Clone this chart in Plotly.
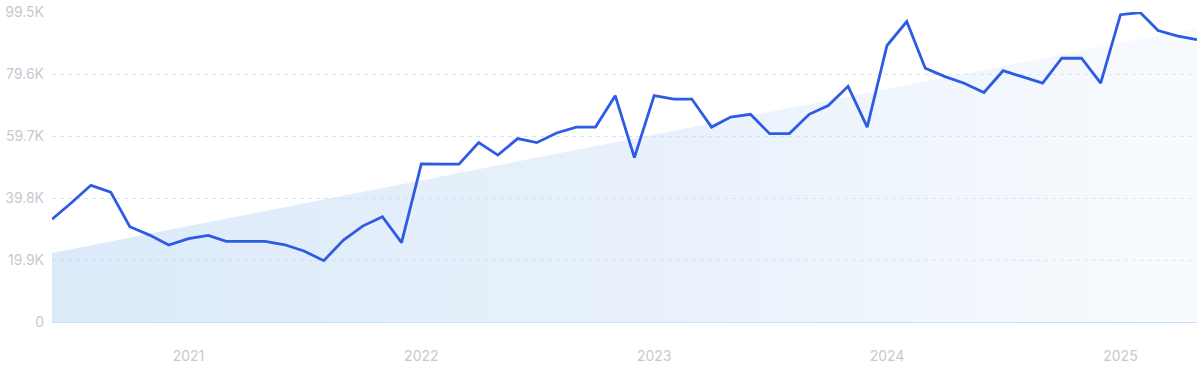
import plotly.graph_objects as go
import pandas as pd

# Monthly values, June 2020 .. May 2025
months = pd.date_range("2020-06-01", "2025-05-01", freq="MS")
values = [
    33000, 38200, 43900, 41700, 30600, 27900, 24700, 26800, 27800, 25900,
    25900, 25900, 24800, 22800, 19700, 26300, 30800, 33800, 25500, 50800,
    50700, 50700, 57600, 53600, 58900, 57600, 60700, 62600, 62600, 72700,
    52800, 72700, 71600, 71600, 62600, 65800, 66700, 60500, 60500, 66700,
    69500, 75700, 62600, 88800, 96500, 81500, 78800, 76700, 73700, 80700,
    78700, 76700, 84700, 84700, 76700, 98700, 99400, 93600, 91800, 90700,
]
trend_x = ["2020-06-01", "2025-05-01"]
trend_y = [22200, 94400]

ytick_vals = [0, 19900, 39800, 59700, 79600, 99500]
ytick_text = ["0", "19.9K", "39.8K", "59.7K", "79.6K", "99.5K"]
xtick_vals = ["2021-01-01", "2022-01-01", "2023-01-01", "2024-01-01", "2025-01-01"]
xtick_text = ["2021", "2022", "2023", "2024", "2025"]

fig = go.Figure()
fig.add_trace(go.Scatter(
    x=trend_x, y=trend_y, mode="lines", line=dict(width=0),
    fill="tozeroy",
    fillgradient=dict(type="horizontal",
                      colorscale=[[0, "rgba(190,216,244,0.55)"],
                                  [0.6, "rgba(205,225,247,0.42)"],
                                  [1, "rgba(235,242,252,0.35)"]]),
    hoverinfo="skip", showlegend=False,
))
fig.add_trace(go.Scatter(
    x=months, y=values, mode="lines",
    line=dict(color="#2d5be3", width=2.8),
    showlegend=False,
))

tick_font = dict(family="Inter, Roboto, sans-serif", size=14, color="#c6c9d1")
fig.update_layout(
    width=1200, height=371,
    margin=dict(l=52, r=3, t=9, b=49),
    paper_bgcolor="white", plot_bgcolor="white",
    xaxis=dict(
        range=["2020-06-01", "2025-05-01"],
        tickvals=xtick_vals, ticktext=xtick_text,
        showgrid=False, zeroline=False,
        showline=True, linecolor="#c8e1f7", linewidth=1,
        ticks="", ticklabelstandoff=21,
        tickfont=tick_font,
    ),
    yaxis=dict(
        range=[0, 99560],
        tickvals=ytick_vals, ticktext=ytick_text,
        showgrid=True, gridcolor="#d3e4f6", griddash="4px,4px", gridwidth=1,
        zeroline=False, ticks="", ticklabelstandoff=7,
        ticklabeloverflow="allow",
        tickfont=tick_font,
    ),
)
fig.write_html("out.html")
